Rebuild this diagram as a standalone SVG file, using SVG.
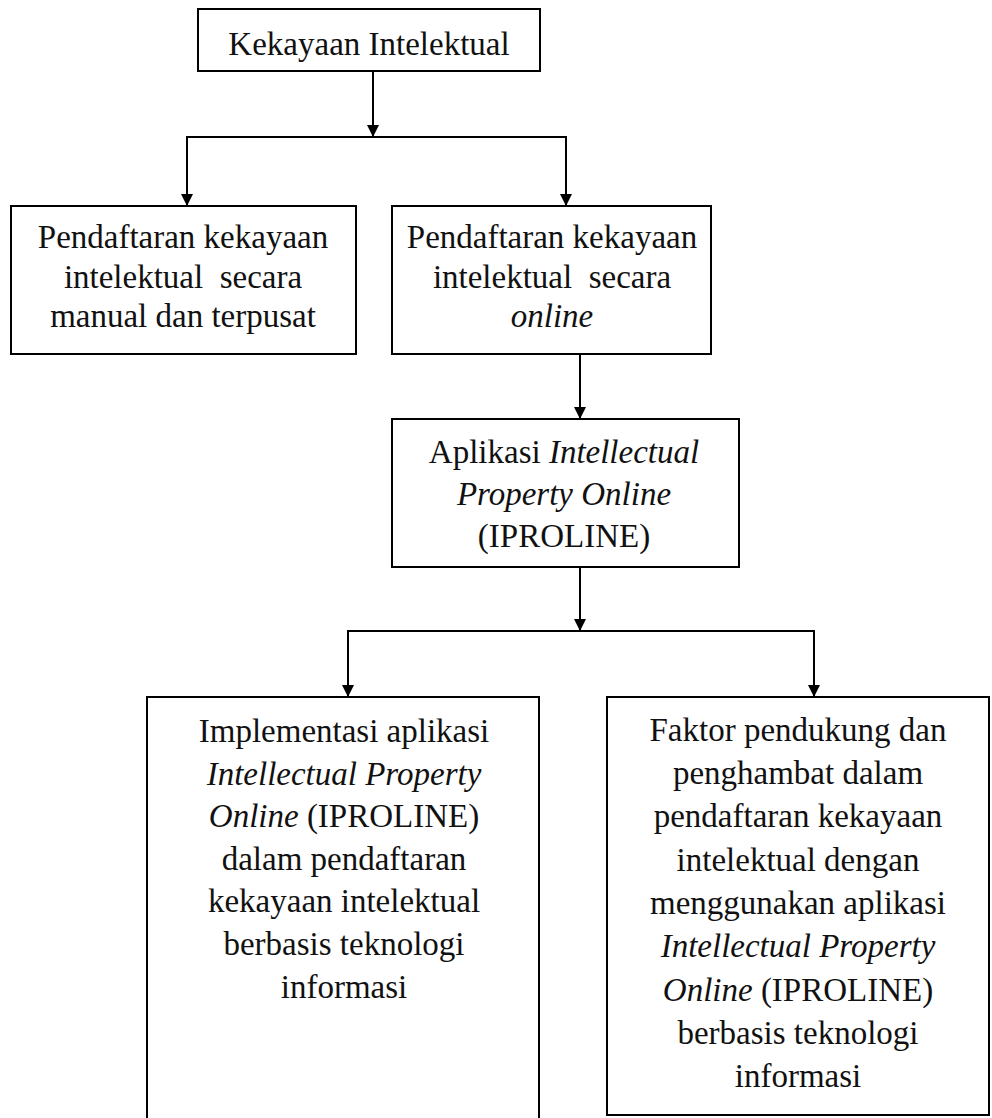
<svg xmlns="http://www.w3.org/2000/svg" width="992" height="1118" viewBox="0 0 992 1118">
<style>
  .box { fill: #fff; stroke: #000; stroke-width: 2; }
  .t { font-family: "Liberation Serif", "Times New Roman", serif; font-size: 33px; fill: #111; text-anchor: middle; white-space: pre; }
  .i { font-style: italic; }
  .ln { fill: none; stroke: #000; stroke-width: 2; }
</style>
<defs>
  <marker id="ah" viewBox="0 0 12 12" refX="12" refY="6" markerWidth="12" markerHeight="12" markerUnits="userSpaceOnUse" orient="auto">
    <path d="M0,0 L12,6 L0,12 Z" fill="#000"/>
  </marker>
</defs>
<rect width="992" height="1118" fill="#fff"/>
<g id="connectors">
  <path class="ln" d="M373,71 V137" marker-end="url(#ah)"/>
  <path class="ln" d="M373,137 H187 V206" marker-end="url(#ah)"/>
  <path class="ln" d="M373,137 H566 V206" marker-end="url(#ah)"/>
  <path class="ln" d="M580,354 V419" marker-end="url(#ah)"/>
  <path class="ln" d="M580,567 V631" marker-end="url(#ah)"/>
  <path class="ln" d="M580,631 H348 V697" marker-end="url(#ah)"/>
  <path class="ln" d="M580,631 H814 V697" marker-end="url(#ah)"/>
</g>
<g id="n1">
  <rect class="box" x="198" y="9" width="342" height="62"/>
  <text class="t" x="369" y="55">Kekayaan Intelektual</text>
</g>
<g id="n2">
  <rect class="box" x="11" y="206" width="345" height="148"/>
  <text class="t" x="183" y="248">Pendaftaran kekayaan</text>
  <text class="t" x="183" y="288">intelektual  secara</text>
  <text class="t" x="183" y="327">manual dan terpusat</text>
</g>
<g id="n3">
  <rect class="box" x="392" y="206" width="319" height="148"/>
  <text class="t" x="552" y="248">Pendaftaran kekayaan</text>
  <text class="t" x="552" y="288">intelektual  secara</text>
  <text class="t i" x="552" y="327">online</text>
</g>
<g id="n4">
  <rect class="box" x="392" y="419" width="347" height="148"/>
  <text class="t" x="564" y="463">Aplikasi <tspan class="i">Intellectual</tspan></text>
  <text class="t i" x="564" y="505">Property Online</text>
  <text class="t" x="564" y="547">(IPROLINE)</text>
</g>
<g id="n5">
  <rect class="box" x="147" y="697" width="392" height="440"/>
  <text class="t" x="344" y="742">Implementasi aplikasi</text>
  <text class="t i" x="344" y="785">Intellectual Property</text>
  <text class="t" x="344" y="827"><tspan class="i">Online</tspan> (IPROLINE)</text>
  <text class="t" x="344" y="870">dalam pendaftaran</text>
  <text class="t" x="344" y="912">kekayaan intelektual</text>
  <text class="t" x="344" y="955">berbasis teknologi</text>
  <text class="t" x="344" y="998">informasi</text>
</g>
<g id="n6">
  <rect class="box" x="607" y="697" width="382" height="418"/>
  <text class="t" x="798" y="741">Faktor pendukung dan</text>
  <text class="t" x="798" y="784">penghambat dalam</text>
  <text class="t" x="798" y="827">pendaftaran kekayaan</text>
  <text class="t" x="798" y="871">intelektual dengan</text>
  <text class="t" x="798" y="914">menggunakan aplikasi</text>
  <text class="t i" x="798" y="957">Intellectual Property</text>
  <text class="t" x="798" y="1001"><tspan class="i">Online</tspan> (IPROLINE)</text>
  <text class="t" x="798" y="1044">berbasis teknologi</text>
  <text class="t" x="798" y="1087">informasi</text>
</g>
</svg>
